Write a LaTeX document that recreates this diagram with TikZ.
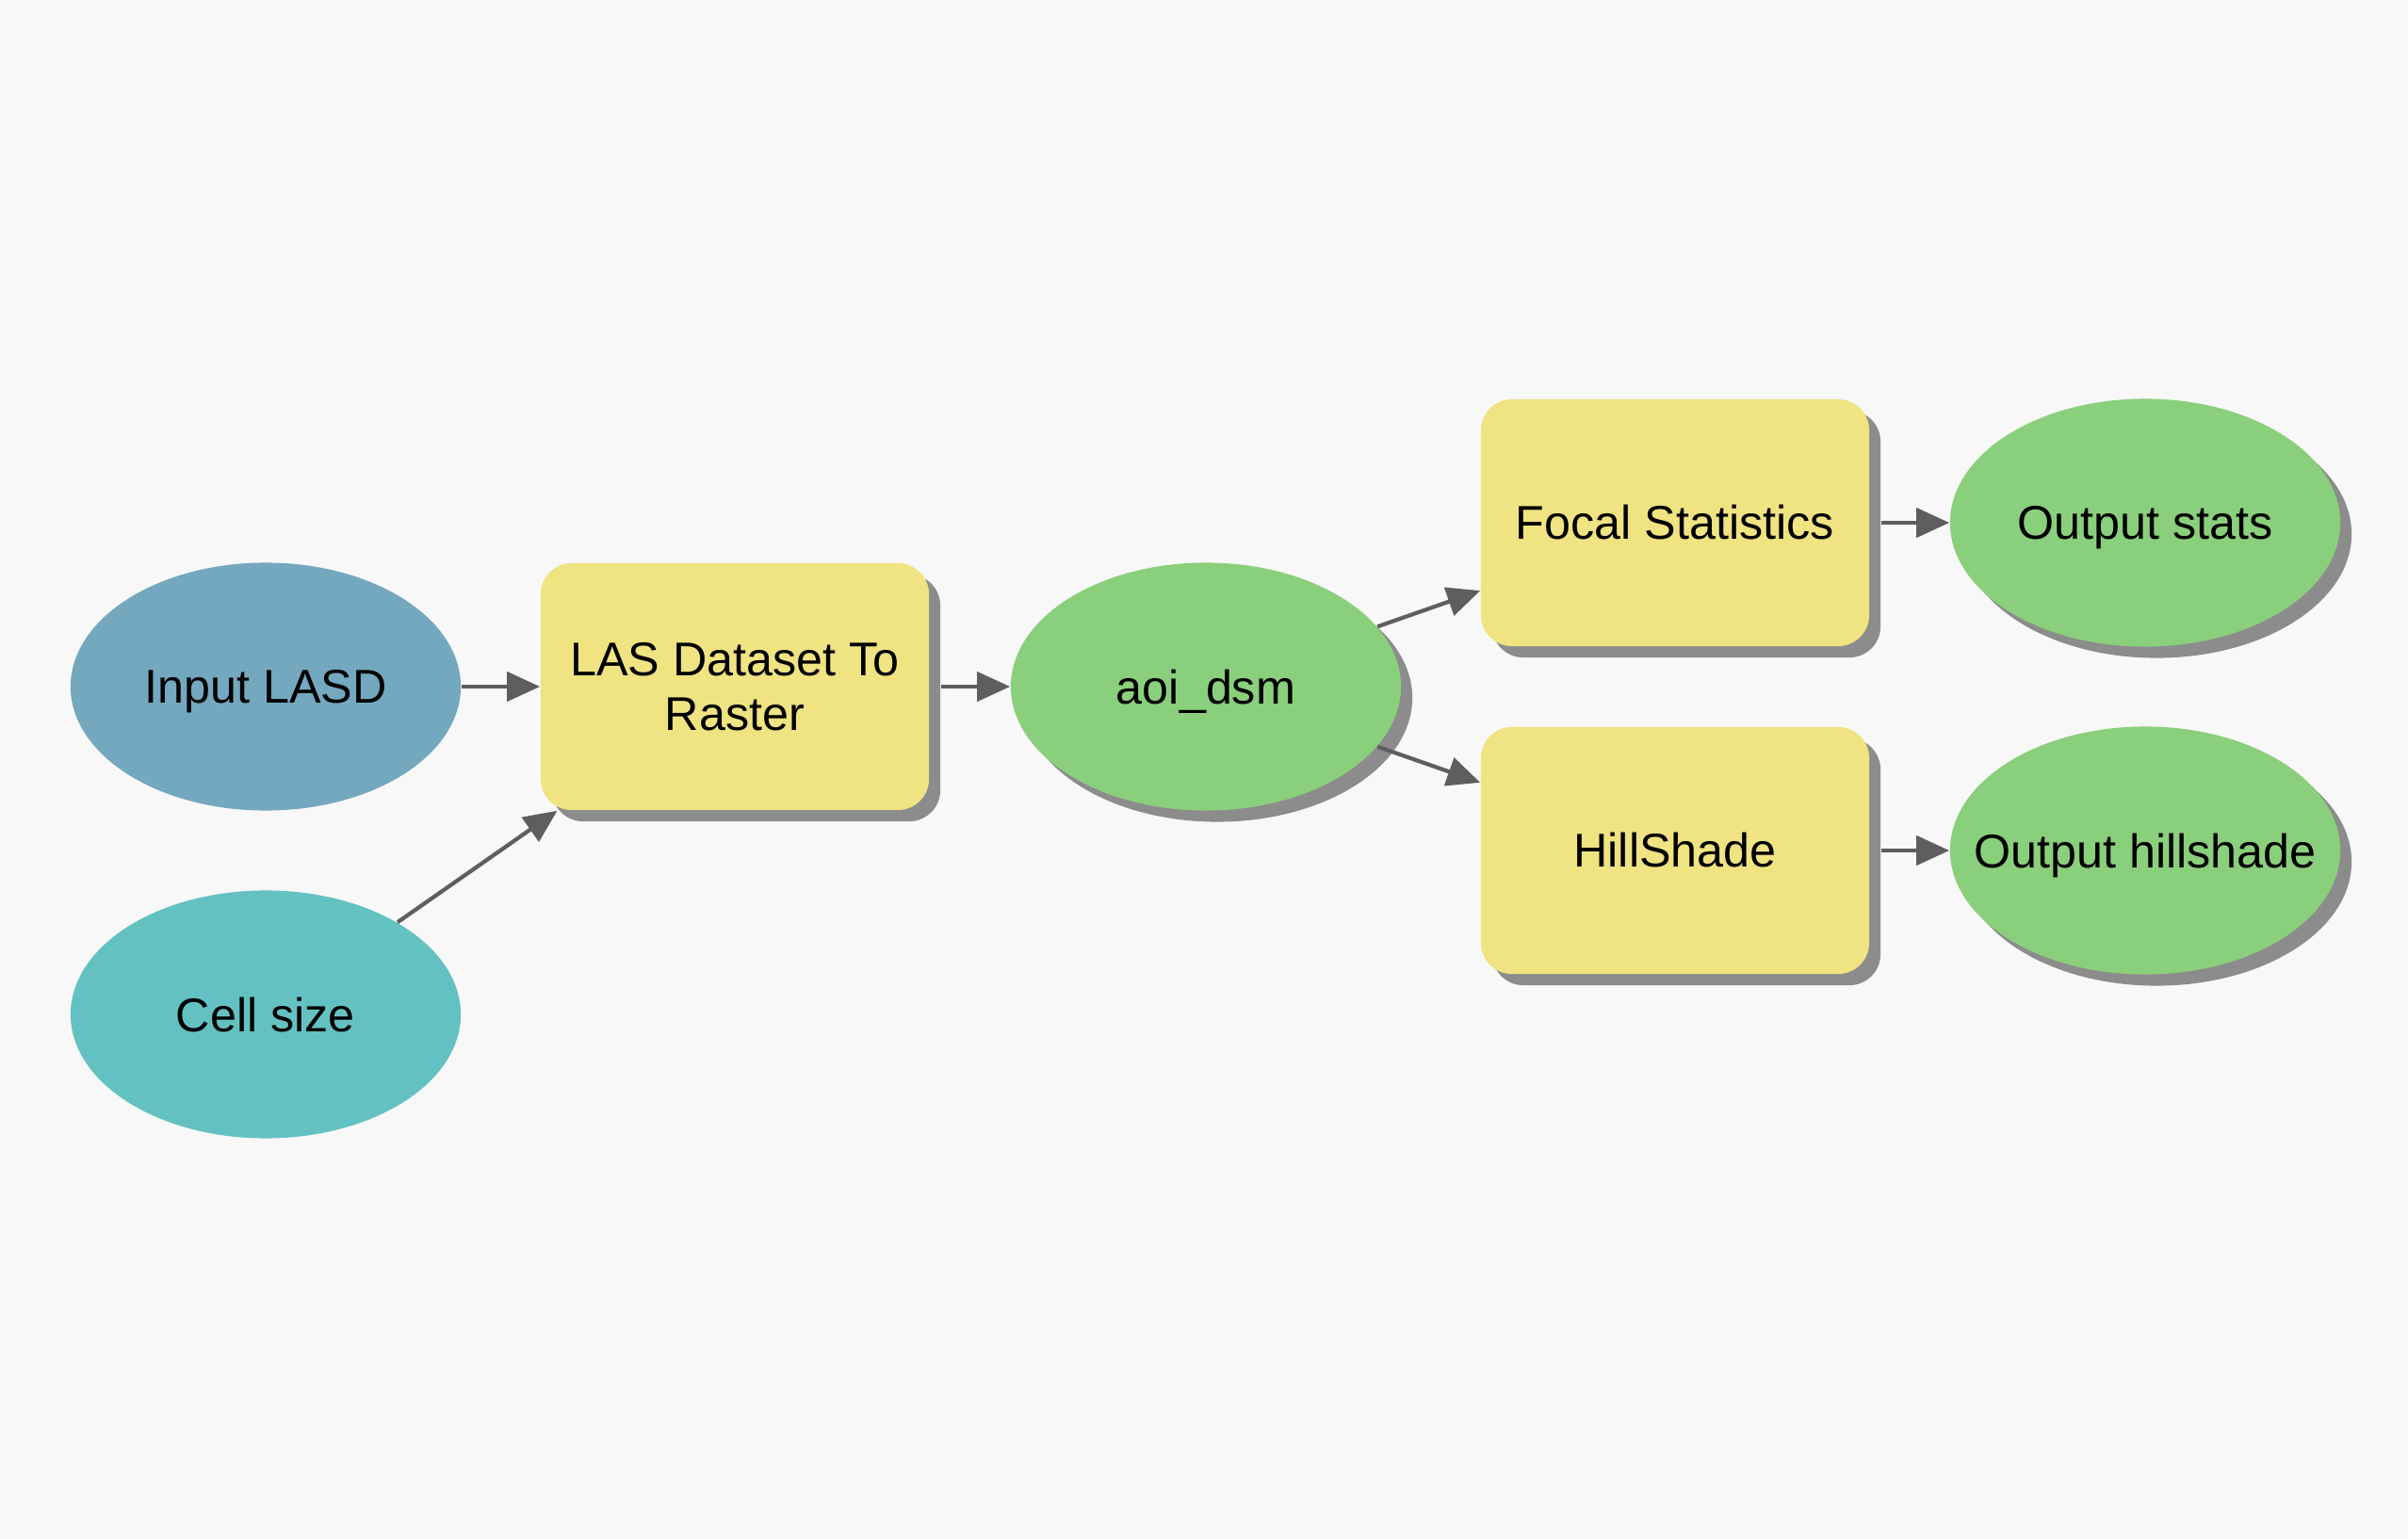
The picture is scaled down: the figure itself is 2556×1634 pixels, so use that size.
\documentclass[tikz,border=0pt]{standalone}
\usepackage{fontspec}
\setmainfont{Liberation Sans}
\usetikzlibrary{positioning, shapes.geometric, shadows, arrows.meta}

\definecolor{bgcol}{HTML}{F8F8F8}
\definecolor{inputblue}{HTML}{73A8BE}
\definecolor{cellteal}{HTML}{64C1C2}
\definecolor{datagreen}{HTML}{8ACF7B}
\definecolor{toolyellow}{HTML}{EFE382}
\definecolor{shadowgray}{HTML}{8C8C8C}
\definecolor{linkgray}{HTML}{5E5E5E}

\begin{document}
\begin{tikzpicture}[x=0.01cm, y=-0.01cm, font=\fontsize{14.3}{16.5}\selectfont,
  shade/.style={drop shadow={shadow xshift=0.12cm, shadow yshift=-0.12cm, fill=shadowgray, opacity=1}},
  varnode/.style={ellipse, minimum width=4.14cm, minimum height=2.63cm, inner sep=0pt, text depth=0pt},
  toolbox/.style={rectangle, rounded corners=0.33cm, minimum width=4.12cm, minimum height=2.62cm,
    fill=toolyellow, align=center, shade},
  link/.style={draw=linkgray, line width=1.2pt, -{Triangle[length=3.5mm, width=3.1mm]}},
  fromtool/.style={link, shorten <=0.12cm}]

% background and margins
\fill[bgcol] (0,0) rectangle (2556,1634);
\useasboundingbox (0,0) rectangle (2556,1634);

% inputs
\node[varnode, fill=inputblue] (lasd) at (282,729) {Input LASD};
\node[varnode, fill=cellteal] (cellsize) at (282,1077) {Cell size};

% tools and data
\node[toolbox] (lastoraster) at (780,729) {LAS Dataset To\\Raster};
\node[varnode, fill=datagreen, shade] (aoidsm) at (1280,729) {aoi\_dsm};
\node[toolbox] (focal) at (1778,555) {Focal Statistics};
\node[toolbox] (hillshade) at (1778,903) {HillShade};

% outputs
\node[varnode, fill=datagreen, shade] (outstats) at (2277,555) {\makebox[0pt]{Output stats}};
\node[varnode, fill=datagreen, shade] (outhill) at (2277,903) {\makebox[0pt]{Output hillshade}};

% connectors
\draw[link] (lasd) -- (lastoraster);
\draw[link] (cellsize) -- (lastoraster);
\draw[fromtool] (lastoraster) -- (aoidsm);
\draw[link] (aoidsm) -- (focal);
\draw[link] (aoidsm) -- (hillshade);
\draw[fromtool] (focal) -- (outstats);
\draw[fromtool] (hillshade) -- (outhill);
\end{tikzpicture}
\end{document}
